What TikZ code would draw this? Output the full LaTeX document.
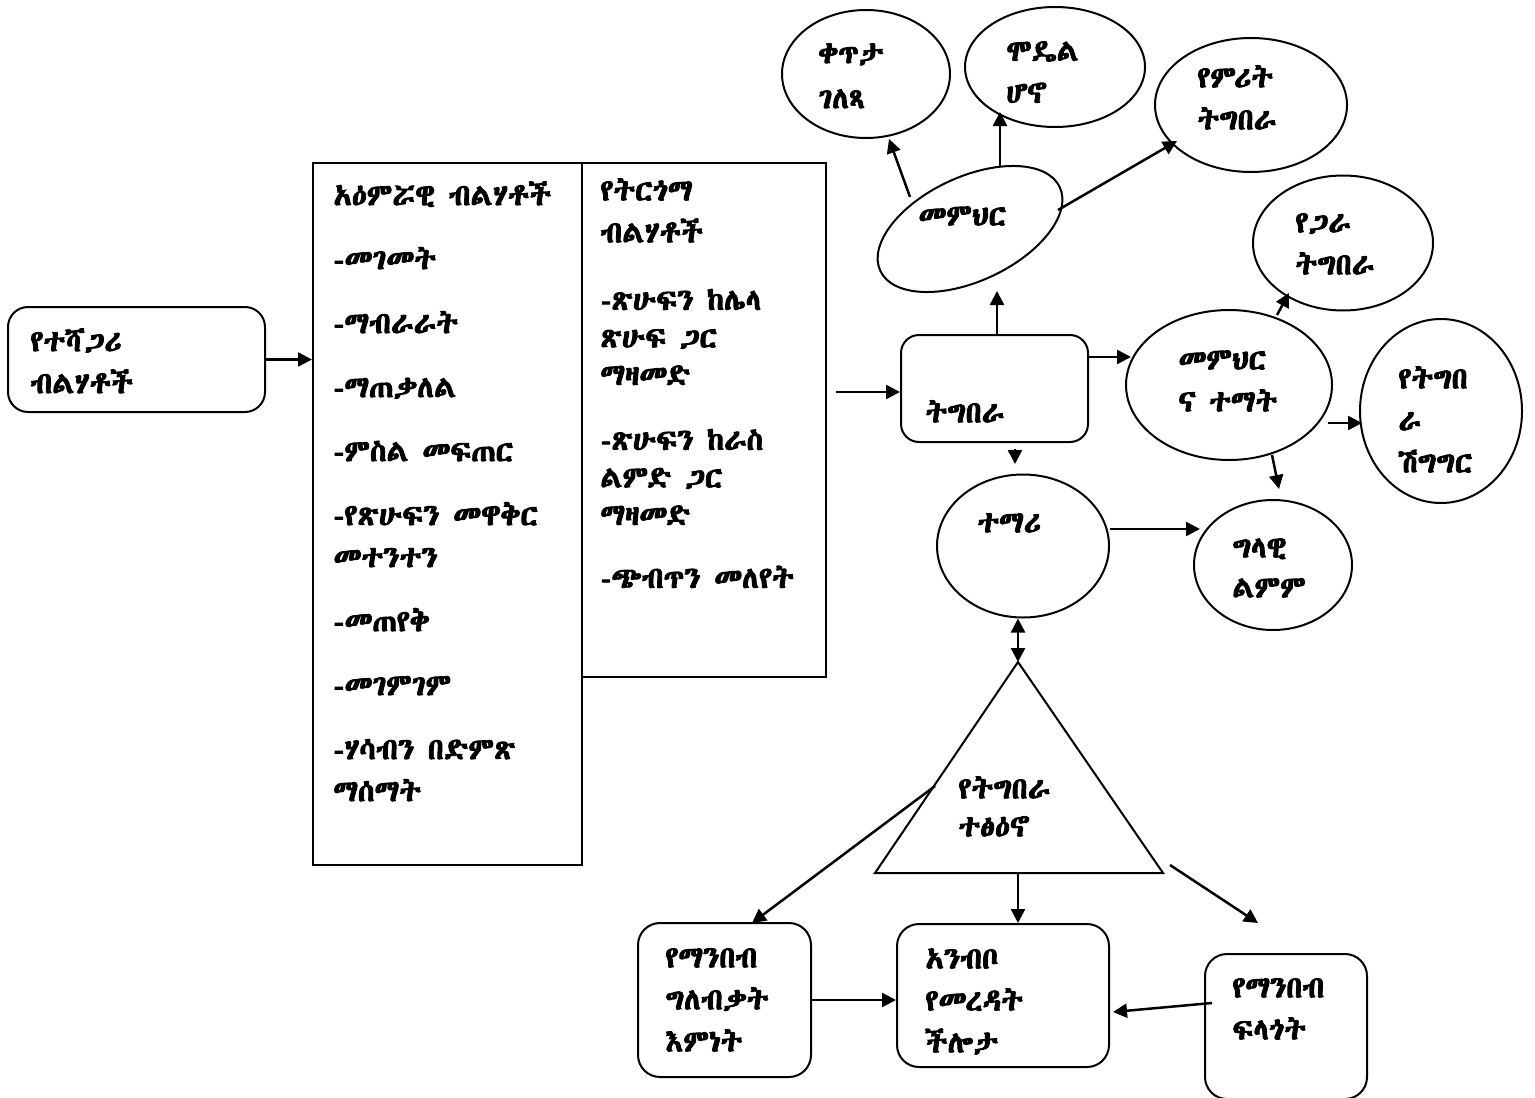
\documentclass[tikz,border=0pt]{standalone}
\usepackage{fontspec}
\usetikzlibrary{shapes.geometric,arrows.meta}
\newfontfamily\ethf{Abyssinica SIL}[FakeBold=3]
\newcommand\ethtxt{\ethf\fontsize{15}{21}\selectfont}
\newcommand\ethtxtb{\ethf\fontsize{15}{18.75}\selectfont}
\begin{document}
\begin{tikzpicture}[x=0.5pt,y=-0.5pt,
  shp/.style={draw, line width=1pt, inner sep=0pt},
  rbox/.style={shp, rectangle, rounded corners=#1},
  rbox/.default=10pt,
  ell/.style={shp, ellipse},
  txt/.style={anchor=north west, inner sep=0pt, align=left, font=\ethtxt},
  txtb/.style={txt, font=\ethtxtb},
  arr/.style={-{Triangle[length=7pt,width=7pt]}, line width=1.25pt},
  arrtwo/.style={{Triangle[length=7pt,width=7pt]}-{Triangle[length=7pt,width=7pt]}, line width=1.25pt}]
\path[fill=white, use as bounding box] (0,0) rectangle (1535,1097);
% shapes
\node[rbox=10pt, minimum width=128.5pt, minimum height=52.5pt] (lbox) at (136.5,359.5) {};
\node[shp, rectangle, minimum width=134.5pt, minimum height=351pt] (b1) at (447.5,514) {};
\node[shp, rectangle, minimum width=122pt, minimum height=257pt] (b2) at (704,420) {};
\node[rbox=9pt, minimum width=93.5pt, minimum height=53.5pt] (tg) at (994.5,388.5) {};
\node[ell, minimum width=84pt, minimum height=64pt] (eqt) at (866,74) {};
\node[ell, minimum width=90pt, minimum height=60pt] (emd) at (1055,67) {};
\node[ell, minimum width=96pt, minimum height=67pt] (emr) at (1251,105) {};
\node[ell, minimum width=99pt, minimum height=52pt, rotate=25] (emm) at (970,229) {};
\node[ell, minimum width=90pt, minimum height=67.5pt] (ejr) at (1343,243) {};
\node[ell, minimum width=103pt, minimum height=75pt] (emt) at (1229,385) {};
\node[ell, minimum width=81pt, minimum height=92pt] (esh) at (1441,411) {};
\node[ell, minimum width=79pt, minimum height=65pt] (egl) at (1273,565) {};
\node[ell, minimum width=86pt, minimum height=71.5pt] (etm) at (1023,546) {};
\coordinate (trA) at (1018,662);
\coordinate (trL) at (875,873);
\coordinate (trR) at (1163,873);
\draw[line width=1pt, line join=miter] (trA) -- (trL) -- (trR) -- cycle;
\node[rbox=11pt, minimum width=86.5pt, minimum height=77pt] (bx1) at (724.5,1000) {};
\node[rbox=11pt, minimum width=106pt, minimum height=71.5pt] (bx2) at (1003,995.5) {};
\node[rbox=11pt, minimum width=81pt, minimum height=72.5pt] (bx3) at (1286,1026.5) {};
% texts
\node[txt] (t_l) at (30,328) {የተሻጋሪ\\ብልሃቶች};
\node[txt] (t_b1) at (333,181) {አዕምሯዊ ብልሃቶች\\[11pt]-መገመት\\[11pt]-ማብራራት\\[11pt]-ማጠቃለል\\[11pt]-ምስል መፍጠር\\[11pt]-የጽሁፍን መዋቅር\\መተንተን\\[11pt]-መጠየቅ\\[11pt]-መገምገም\\[11pt]-ሃሳብን በድምጽ\\ማሰማት};
\node[txtb] (t_b2) at (600,178) {የትርጎማ\\[2.25pt]ብልሃቶች\\[15pt]-ጽሁፍን ከሌላ\\ጽሁፍ ጋር\\ማዛመድ\\[13.75pt]-ጽሁፍን ከራስ\\ልምድ ጋር\\ማዛመድ\\[12.75pt]-ጭብጥን መለየት};
\node[txt] (t_qt) at (818,43) {ቀጥታ\\[1.5pt]ገለጻ};
\node[txt] (t_md) at (1006,41) {ሞዴል\\ሆኖ};
\node[txt] (t_mr) at (1197,65) {የምሪት\\ትግበራ};
\node[txt] (t_mm) at (918,206) {መምህር};
\node[txt] (t_jr) at (1295,213) {የጋራ\\ትግበራ};
\node[txt] (t_mt) at (1178,350) {መምህር\\ና ተማት};
\node[txt] (t_sh) at (1398,366) {የትግበ\\ራ\\ሽግግር};
\node[txt] (t_tg) at (925,400) {ትግበራ};
\node[txt] (t_tm) at (977,513) {ተማሪ};
\node[txt] (t_gl) at (1232,538) {ግላዊ\\[-1pt]ልምም};
\node[txt] (t_tr) at (958,776) {የትግበራ\\[-2pt]ተፅዕኖ};
\node[txt] (t_x1) at (665,948) {የማንበብ\\ግለብቃት\\እምነት};
\node[txt] (t_x2) at (925,948) {አንብቦ\\የመረዳት\\ችሎታ};
\node[txt] (t_x3) at (1232,978) {የማንበብ\\ፍላጎት};
% connector end points
\coordinate (s1) at (836,392);
\coordinate (a3) at (997,291);
\coordinate (m1) at (910,197);
\coordinate (q1) at (889,139);
\coordinate (m2) at (1000,166);
\coordinate (d1) at (1000,112);
\coordinate (m3) at (1058,210);
\coordinate (r1) at (1177,141);
\coordinate (c7) at (1131,357);
\coordinate (c8a) at (1277,315);
\coordinate (c8b) at (1289,293);
\coordinate (c9a) at (1328,423);
\coordinate (c9b) at (1362,423);
\coordinate (c10a) at (1272,455);
\coordinate (c10b) at (1279,489);
\coordinate (c11a) at (1015,449);
\coordinate (c11b) at (1015,464);
\coordinate (c12) at (1200,529);
\coordinate (c15a) at (935,786);
\coordinate (c15b) at (752,923);
\coordinate (c16a) at (1170,865);
\coordinate (c16b) at (1258,923);
\coordinate (c18a) at (1212,1003);
\coordinate (c18b) at (1113,1012);
% connectors
\draw[arr] (lbox.east) -- (lbox.east -| b1.west);
\draw[arr] (s1) -- (s1 -| tg.west);
\draw[arr] (tg.north -| a3) -- (a3);
\draw[arr] (m1) -- (q1);
\draw[arr] (m2) -- (d1);
\draw[arr] (m3) -- (r1);
\draw[arr] (c7 -| tg.east) -- (c7);
\draw[arr] (c8a) -- (c8b);
\draw[arr] (c9a) -- (c9b);
\draw[arr] (c10a) -- (c10b);
\draw[arr] (c11a) -- (c11b);
\draw[arr] (c12 -| etm.east) -- (c12);
\draw[arrtwo] (trA |- etm.south) -- (trA);
\draw[arr] (trA |- trL) -- (trA |- bx2.north);
\draw[arr] (c15a) -- (c15b);
\draw[arr] (c16a) -- (c16b);
\draw[arr] (bx1.east) -- (bx1.east -| bx2.west);
\draw[arr] (c18a) -- (c18b);
\end{tikzpicture}
\end{document}
